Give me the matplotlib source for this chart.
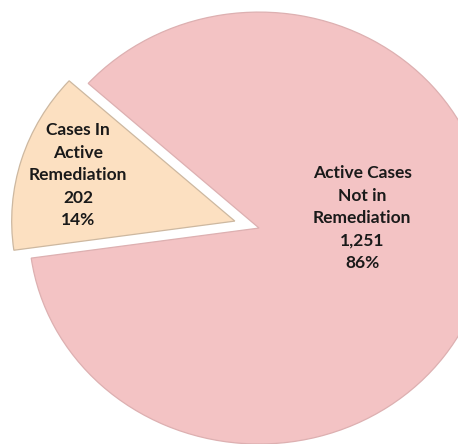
import matplotlib
matplotlib.use('Agg')
import matplotlib.pyplot as plt

# Remediation status of active cases
labels = ['Active Cases\nNot in\nRemediation', 'Cases In\nActive\nRemediation']
counts = [1251, 202]
colors = ['#F3C3C4', '#FCE0C1']
edges = ['#DDB0B1', '#CDB8A0']
explode = [0.0, 0.11]

total = float(sum(counts))

fig = plt.figure(figsize=(4.58, 4.44), dpi=100)
ax = fig.add_axes([0, 0, 1, 1])

# the original pie is a bit wider than tall, so aspect is left free
wedges, _ = ax.pie(counts, colors=colors, explode=explode, startangle=188.0,
                   counterclock=True, radius=1.0,
                   wedgeprops=dict(linewidth=0.9))
for w, ec in zip(wedges, edges):
    w.set_edgecolor(ec)
wedges[1].set_radius(0.97)  # small slice looks a touch shorter

# label text, placed like the original (inside the slices)
label_pos = [(0.448, 0.046), (-0.787, 0.245)]
for lab, n, (x, y) in zip(labels, counts, label_pos):
    txt = '%s\n%s\n%d%%' % (lab, format(n, ','), round(100 * n / total))
    ax.text(x, y, txt, ha='center', va='center', fontsize=12.5,
            fontweight='bold', family='Lato', color='#1a1a1a',
            linespacing=1.5)

ax.set_aspect('auto')
ax.set_xlim(-1.126, 0.865)
ax.set_ylim(-1.0, 1.056)
ax.axis('off')

fig.savefig('out.png', dpi=100, facecolor='white')
